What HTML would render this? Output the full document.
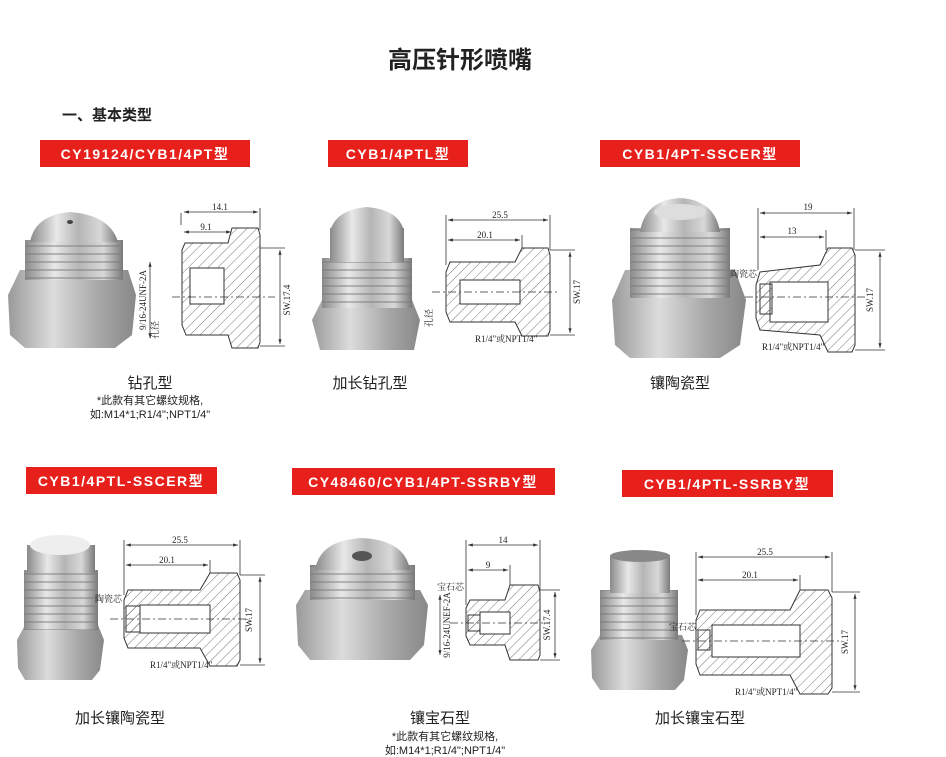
<!DOCTYPE html>
<html><head><meta charset="utf-8"><style>
html,body{margin:0;padding:0;background:#fff;}
svg{display:block;}
.t{font-family:"Liberation Sans","Noto Sans CJK SC",sans-serif;}
.s{font-family:"Liberation Serif","Noto Serif CJK SC",serif;font-size:9px;fill:#222;}
.lab{font-family:"Liberation Sans","Noto Sans CJK SC",sans-serif;font-weight:bold;font-size:14px;fill:#fff;letter-spacing:1.5px;}
.cap{font-family:"Liberation Sans","Noto Sans CJK SC",sans-serif;font-size:15px;fill:#222;}
.note{font-family:"Liberation Sans","Noto Sans CJK SC",sans-serif;font-size:11px;fill:#222;}
.ln{stroke:#333;stroke-width:0.8;fill:none;}
.hat{fill:url(#h);stroke:#333;stroke-width:1;}
.dash{stroke:#333;stroke-width:0.7;stroke-dasharray:8 3 2 3;}
</style></head><body>
<svg width="946" height="757" viewBox="0 0 946 757" xmlns="http://www.w3.org/2000/svg">
<defs>
<pattern id="h" width="7" height="7" patternUnits="userSpaceOnUse" patternTransform="rotate(45)"><line x1="0" y1="0" x2="0" y2="7" stroke="#555" stroke-width="0.8"/></pattern>
<linearGradient id="m" x1="0" x2="1"><stop offset="0" stop-color="#8a8a8a"/><stop offset="0.3" stop-color="#e8e8e8"/><stop offset="0.55" stop-color="#b5b5b5"/><stop offset="0.8" stop-color="#d8d8d8"/><stop offset="1" stop-color="#7a7a7a"/></linearGradient>
<linearGradient id="m2" x1="0" x2="1"><stop offset="0" stop-color="#9a9a9a"/><stop offset="0.35" stop-color="#dcdcdc"/><stop offset="0.7" stop-color="#a8a8a8"/><stop offset="1" stop-color="#888"/></linearGradient>
<pattern id="thl" width="10" height="8" patternUnits="userSpaceOnUse"><rect y="5" width="10" height="2" fill="#777" opacity="0.45"/></pattern>
<marker id="a" viewBox="0 0 6 6" refX="6" refY="3" markerWidth="6" markerHeight="6" orient="auto-start-reverse"><path d="M0,1 L6,3 L0,5z" fill="#333"/></marker>
</defs>

<text x="460" y="68" text-anchor="middle" class="t" font-size="24" font-weight="bold" fill="#222">高压针形喷嘴</text>
<text x="62" y="120" class="t" font-size="15" font-weight="bold" fill="#222">一、基本类型</text>

<rect x="40" y="140" width="210" height="27" fill="#e8201c"/><text x="145" y="159" text-anchor="middle" class="lab">CY19124/CYB1/4PT型</text>
<rect x="328" y="140" width="140" height="27" fill="#e8201c"/><text x="398" y="159" text-anchor="middle" class="lab">CYB1/4PTL型</text>
<rect x="600" y="140" width="200" height="27" fill="#e8201c"/><text x="700" y="159" text-anchor="middle" class="lab">CYB1/4PT-SSCER型</text>
<rect x="26" y="467" width="191" height="27" fill="#e8201c"/><text x="121" y="486" text-anchor="middle" class="lab">CYB1/4PTL-SSCER型</text>
<rect x="292" y="468" width="263" height="27" fill="#e8201c"/><text x="423" y="487" text-anchor="middle" class="lab">CY48460/CYB1/4PT-SSRBY型</text>
<rect x="622" y="470" width="211" height="27" fill="#e8201c"/><text x="727" y="489" text-anchor="middle" class="lab">CYB1/4PTL-SSRBY型</text>

<!-- photo 1 -->
<polygon points="8,295 20,270 128,270 136,295 132,335 115,348 25,348 10,335" fill="url(#m2)"/>
<rect x="25" y="240" width="98" height="40" fill="url(#m)"/><rect x="25" y="240" width="98" height="40" fill="url(#thl)"/>
<path d="M30,242 Q35,215 70,212 Q110,215 118,242z" fill="url(#m)"/>
<ellipse cx="70" cy="222" rx="3" ry="2" fill="#444"/>
<path class="hat" d="M185,243 L228,243 L232,228 L258,228 L260,235 L260,342 L258,348 L232,348 L228,335 L186,335 L182,325 L182,250z"/>
<rect x="190" y="268" width="34" height="36" fill="#fff" stroke="#333"/>
<line class="ln" x1="181" y1="225" x2="181" y2="213"/><line class="ln" x1="260" y1="230" x2="260" y2="208"/>
<line class="ln" x1="184" y1="212" x2="258" y2="212" marker-start="url(#a)" marker-end="url(#a)"/>
<line class="ln" x1="184" y1="232" x2="231" y2="232" marker-start="url(#a)" marker-end="url(#a)"/>
<text x="220" y="210" text-anchor="middle" class="s">14.1</text><text x="206" y="230" text-anchor="middle" class="s">9.1</text>
<line class="dash" x1="172" y1="297" x2="275" y2="297"/>
<line class="ln" x1="260" y1="248" x2="285" y2="248"/><line class="ln" x1="260" y1="346" x2="285" y2="346"/>
<line class="ln" x1="280" y1="250" x2="280" y2="344" marker-start="url(#a)" marker-end="url(#a)"/>
<text class="s" transform="translate(290,300) rotate(-90)" text-anchor="middle">SW.17.4</text>
<line class="ln" x1="150" y1="262" x2="150" y2="338" marker-start="url(#a)" marker-end="url(#a)"/>
<text class="s" transform="translate(146,300) rotate(-90)" text-anchor="middle">9/16-24UNF-2A</text>
<text class="s" transform="translate(158,330) rotate(-90)" text-anchor="middle">孔径</text>
<text x="150" y="388" text-anchor="middle" class="cap">钻孔型</text>
<text x="150" y="404" text-anchor="middle" class="note">*此款有其它螺纹规格,</text>
<text x="150" y="418" text-anchor="middle" class="note">如:M14*1;R1/4";NPT1/4"</text>

<!-- photo 2 -->
<polygon points="312,320 322,300 412,300 420,320 414,350 320,350" fill="url(#m2)"/>
<rect x="322" y="258" width="90" height="50" fill="url(#m)"/><rect x="322" y="258" width="90" height="50" fill="url(#thl)"/>
<rect x="330" y="228" width="74" height="34" fill="url(#m)"/>
<path d="M330,232 Q335,210 367,207 Q400,210 404,232z" fill="url(#m)"/>
<path class="hat" d="M450,262 L515,262 L522,248 L548,248 L550,255 L550,330 L548,336 L522,336 L515,322 L450,322 L446,312 L446,272z"/>
<rect x="460" y="280" width="60" height="24" fill="#fff" stroke="#333"/>
<line class="ln" x1="446" y1="265" x2="446" y2="215"/><line class="ln" x1="550" y1="250" x2="550" y2="215"/><line class="ln" x1="522" y1="248" x2="522" y2="235"/>
<line class="ln" x1="448" y1="220" x2="548" y2="220" marker-start="url(#a)" marker-end="url(#a)"/>
<line class="ln" x1="448" y1="240" x2="520" y2="240" marker-start="url(#a)" marker-end="url(#a)"/>
<text x="500" y="218" text-anchor="middle" class="s">25.5</text><text x="485" y="238" text-anchor="middle" class="s">20.1</text>
<line class="dash" x1="432" y1="292" x2="560" y2="292"/>
<line class="ln" x1="550" y1="250" x2="575" y2="250"/><line class="ln" x1="550" y1="335" x2="575" y2="335"/>
<line class="ln" x1="570" y1="252" x2="570" y2="333" marker-start="url(#a)" marker-end="url(#a)"/>
<text class="s" transform="translate(580,292) rotate(-90)" text-anchor="middle">SW.17</text>
<text class="s" transform="translate(432,318) rotate(-90)" text-anchor="middle">孔径</text>
<text x="475" y="342" class="s" font-size="8">R1/4"或NPT1/4"</text>
<text x="370" y="388" text-anchor="middle" class="cap">加长钻孔型</text>

<!-- photo 3 -->
<polygon points="612,300 625,270 735,270 746,300 740,345 720,358 630,358 615,345" fill="url(#m2)"/>
<rect x="630" y="228" width="100" height="70" fill="url(#m)"/><rect x="630" y="228" width="100" height="70" fill="url(#thl)"/>
<path d="M640,232 Q645,200 680,198 Q715,200 720,232z" fill="url(#m)"/>
<ellipse cx="680" cy="212" rx="26" ry="8" fill="#ddd"/>
<path class="hat" d="M760,272 L820,265 L828,248 L852,248 L855,255 L855,345 L852,352 L828,352 L820,335 L760,330 L756,318 L756,285z"/>
<rect x="770" y="282" width="58" height="40" fill="#fff" stroke="#333"/>
<rect x="760" y="284" width="12" height="30" fill="url(#h)" stroke="#333"/>
<line class="ln" x1="758" y1="270" x2="758" y2="208"/><line class="ln" x1="854" y1="250" x2="854" y2="208"/><line class="ln" x1="826" y1="250" x2="826" y2="230"/>
<line class="ln" x1="760" y1="213" x2="852" y2="213" marker-start="url(#a)" marker-end="url(#a)"/>
<line class="ln" x1="760" y1="237" x2="824" y2="237" marker-start="url(#a)" marker-end="url(#a)"/>
<text x="808" y="210" text-anchor="middle" class="s" font-size="10">19</text><text x="792" y="234" text-anchor="middle" class="s" font-size="10">13</text>
<line class="dash" x1="745" y1="297" x2="865" y2="297"/>
<line class="ln" x1="855" y1="250" x2="885" y2="250"/><line class="ln" x1="855" y1="350" x2="885" y2="350"/>
<line class="ln" x1="880" y1="252" x2="880" y2="348" marker-start="url(#a)" marker-end="url(#a)"/>
<text class="s" transform="translate(873,300) rotate(-90)" text-anchor="middle">SW.17</text>
<text x="730" y="277" class="s">陶瓷芯</text>
<text x="762" y="350" class="s" font-size="8">R1/4"或NPT1/4"</text>
<text x="680" y="388" text-anchor="middle" class="cap">镶陶瓷型</text>

<!-- photo 4 -->
<polygon points="17,640 25,625 98,625 104,640 100,670 92,680 25,680 18,668" fill="url(#m2)"/>
<rect x="24" y="570" width="74" height="60" fill="url(#m)"/><rect x="24" y="570" width="74" height="60" fill="url(#thl)"/>
<rect x="27" y="545" width="68" height="28" fill="url(#m)"/>
<ellipse cx="60" cy="545" rx="30" ry="10" fill="#eee"/>
<path class="hat" d="M128,590 L200,590 L210,573 L237,573 L240,580 L240,660 L237,666 L210,666 L200,648 L128,648 L124,638 L124,600z"/>
<rect x="140" y="605" width="70" height="28" fill="#fff" stroke="#333"/>
<rect x="126" y="606" width="14" height="26" fill="url(#h)" stroke="#333"/>
<line class="ln" x1="124" y1="595" x2="124" y2="540"/><line class="ln" x1="240" y1="575" x2="240" y2="540"/><line class="ln" x1="210" y1="573" x2="210" y2="560"/>
<line class="ln" x1="126" y1="545" x2="238" y2="545" marker-start="url(#a)" marker-end="url(#a)"/>
<line class="ln" x1="126" y1="565" x2="208" y2="565" marker-start="url(#a)" marker-end="url(#a)"/>
<text x="180" y="543" text-anchor="middle" class="s">25.5</text><text x="167" y="563" text-anchor="middle" class="s">20.1</text>
<line class="dash" x1="110" y1="619" x2="250" y2="619"/>
<line class="ln" x1="240" y1="575" x2="265" y2="575"/><line class="ln" x1="240" y1="665" x2="265" y2="665"/>
<line class="ln" x1="260" y1="577" x2="260" y2="663" marker-start="url(#a)" marker-end="url(#a)"/>
<text class="s" transform="translate(252,620) rotate(-90)" text-anchor="middle">SW.17</text>
<text x="95" y="602" class="s">陶瓷芯</text>
<text x="150" y="668" class="s" font-size="8">R1/4"或NPT1/4"</text>
<text x="120" y="723" text-anchor="middle" class="cap">加长镶陶瓷型</text>

<!-- photo 5 -->
<polygon points="296,605 305,590 420,590 428,605 424,645 410,660 310,660 298,645" fill="url(#m2)"/>
<rect x="310" y="565" width="105" height="35" fill="url(#m)"/><rect x="310" y="565" width="105" height="35" fill="url(#thl)"/>
<path d="M315,570 Q320,540 362,538 Q405,540 410,570z" fill="url(#m)"/>
<ellipse cx="362" cy="556" rx="10" ry="5" fill="#555"/>
<path class="hat" d="M470,600 L505,600 L510,585 L538,585 L540,592 L540,655 L538,660 L510,660 L505,645 L470,645 L466,636 L466,608z"/>
<rect x="480" y="612" width="30" height="22" fill="#fff" stroke="#333"/>
<rect x="468" y="615" width="12" height="16" fill="url(#h)" stroke="#333"/>
<line class="ln" x1="466" y1="605" x2="466" y2="540"/><line class="ln" x1="540" y1="590" x2="540" y2="540"/><line class="ln" x1="510" y1="585" x2="510" y2="565"/>
<line class="ln" x1="468" y1="545" x2="538" y2="545" marker-start="url(#a)" marker-end="url(#a)"/>
<line class="ln" x1="468" y1="570" x2="508" y2="570" marker-start="url(#a)" marker-end="url(#a)"/>
<text x="503" y="543" text-anchor="middle" class="s">14</text><text x="488" y="568" text-anchor="middle" class="s">9</text>
<line class="dash" x1="450" y1="623" x2="550" y2="623"/>
<line class="ln" x1="540" y1="590" x2="560" y2="590"/><line class="ln" x1="540" y1="660" x2="560" y2="660"/>
<line class="ln" x1="555" y1="592" x2="555" y2="658" marker-start="url(#a)" marker-end="url(#a)"/>
<text class="s" transform="translate(550,625) rotate(-90)" text-anchor="middle">SW.17.4</text>
<line class="ln" x1="440" y1="595" x2="440" y2="655" marker-start="url(#a)" marker-end="url(#a)"/>
<text class="s" transform="translate(450,625) rotate(-90)" text-anchor="middle">9/16-24UNEF-2A</text>
<text x="437" y="590" class="s">宝石芯</text>
<text x="440" y="723" text-anchor="middle" class="cap">镶宝石型</text>
<text x="445" y="740" text-anchor="middle" class="note">*此款有其它螺纹规格,</text>
<text x="445" y="754" text-anchor="middle" class="note">如:M14*1;R1/4";NPT1/4"</text>

<!-- photo 6 -->
<polygon points="591,650 600,635 682,635 688,650 684,680 675,690 600,690 592,678" fill="url(#m2)"/>
<rect x="600" y="590" width="78" height="50" fill="url(#m)"/><rect x="600" y="590" width="78" height="50" fill="url(#thl)"/>
<rect x="610" y="555" width="60" height="38" fill="url(#m)"/>
<ellipse cx="640" cy="556" rx="30" ry="6" fill="#888"/>
<path class="hat" d="M700,610 L790,610 L800,590 L828,590 L832,598 L832,688 L828,694 L800,694 L790,675 L700,675 L696,664 L696,620z"/>
<rect x="712" y="625" width="88" height="32" fill="#fff" stroke="#333"/>
<rect x="698" y="630" width="12" height="20" fill="url(#h)" stroke="#333"/>
<line class="ln" x1="696" y1="615" x2="696" y2="552"/><line class="ln" x1="832" y1="592" x2="832" y2="552"/><line class="ln" x1="800" y1="590" x2="800" y2="575"/>
<line class="ln" x1="698" y1="557" x2="830" y2="557" marker-start="url(#a)" marker-end="url(#a)"/>
<line class="ln" x1="698" y1="580" x2="798" y2="580" marker-start="url(#a)" marker-end="url(#a)"/>
<text x="765" y="555" text-anchor="middle" class="s">25.5</text><text x="750" y="578" text-anchor="middle" class="s">20.1</text>
<line class="dash" x1="682" y1="641" x2="842" y2="641"/>
<line class="ln" x1="832" y1="592" x2="860" y2="592"/><line class="ln" x1="832" y1="692" x2="860" y2="692"/>
<line class="ln" x1="855" y1="594" x2="855" y2="690" marker-start="url(#a)" marker-end="url(#a)"/>
<text class="s" transform="translate(848,642) rotate(-90)" text-anchor="middle">SW.17</text>
<text x="669" y="630" class="s">宝石芯</text>
<text x="735" y="695" class="s" font-size="8">R1/4"或NPT1/4"</text>
<text x="700" y="723" text-anchor="middle" class="cap">加长镶宝石型</text>
</svg>
</body></html>
